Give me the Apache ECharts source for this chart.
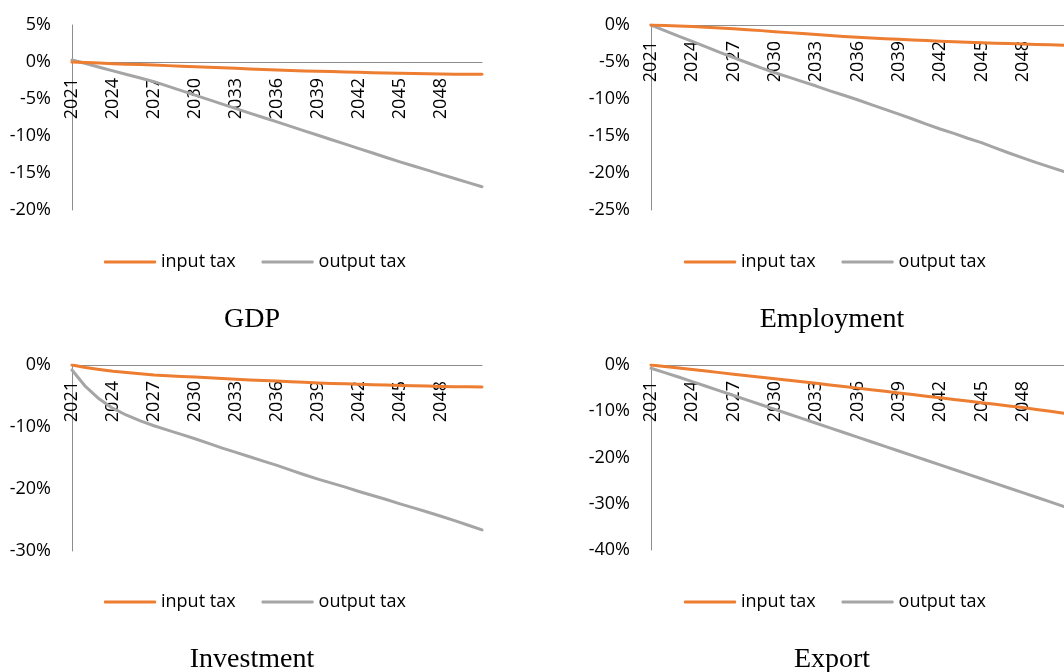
<!DOCTYPE html>
<html>
<head>
<meta charset="utf-8">
<script src="https://cdn.jsdelivr.net/npm/echarts@6/dist/echarts.min.js"></script>
<style>
html,body{margin:0;padding:0;background:#fff;}
#chart{width:1064px;height:672px;}
</style>
</head>
<body>
<div id="chart"></div>
<script>
const years = ['2021','2022','2023','2024','2025','2026','2027','2028','2029','2030',
  '2031','2032','2033','2034','2035','2036','2037','2038','2039','2040',
  '2041','2042','2043','2044','2045','2046','2047','2048','2049','2050','2051'];

const seriesNames = ['input tax', 'output tax'];
const panelTitles = ['GDP', 'Employment', 'Investment', 'Export'];

const gdpInput = [0,-0.07,-0.15,-0.22,-0.29,-0.35,-0.42,-0.49,-0.56,-0.63,
  -0.70,-0.78,-0.85,-0.93,-1.00,-1.08,-1.14,-1.20,-1.25,-1.30,
  -1.35,-1.40,-1.44,-1.48,-1.52,-1.55,-1.59,-1.62,-1.64,-1.66,-1.67];
const gdpOutput = [0.27,-0.2,-0.7,-1.2,-1.68,-2.17,-2.66,-3.27,-3.87,-4.48,
  -5.09,-5.69,-6.30,-6.90,-7.50,-8.10,-8.70,-9.30,-9.90,-10.50,
  -11.10,-11.70,-12.30,-12.90,-13.50,-14.06,-14.62,-15.18,-15.74,-16.30,-16.85];

const empInput = [0,-0.06,-0.13,-0.2,-0.3,-0.4,-0.5,-0.63,-0.76,-0.9,
  -1.03,-1.16,-1.29,-1.42,-1.55,-1.66,-1.76,-1.85,-1.94,-2.02,
  -2.1,-2.18,-2.25,-2.32,-2.39,-2.45,-2.51,-2.56,-2.62,-2.67,-2.72];
const empOutput = [0,-0.75,-1.5,-2.2,-2.95,-3.7,-4.4,-5.1,-5.8,-6.45,
  -7.05,-7.65,-8.25,-8.9,-9.5,-10.1,-10.75,-11.4,-12.05,-12.7,
  -13.4,-14.05,-14.65,-15.3,-15.9,-16.6,-17.3,-17.95,-18.6,-19.2,-19.8];

const invInput = [0,-0.4,-0.72,-1.0,-1.22,-1.42,-1.6,-1.73,-1.84,-1.95,
  -2.07,-2.19,-2.3,-2.4,-2.5,-2.6,-2.7,-2.8,-2.9,-2.97,
  -3.04,-3.1,-3.17,-3.24,-3.3,-3.35,-3.4,-3.45,-3.49,-3.52,-3.55];
const invOutput = [-0.8,-3.5,-5.5,-7.0,-8.1,-9.0,-9.8,-10.5,-11.2,-11.9,
  -12.65,-13.4,-14.1,-14.8,-15.5,-16.2,-16.95,-17.7,-18.4,-19.05,
  -19.7,-20.4,-21.05,-21.7,-22.4,-23.05,-23.7,-24.4,-25.1,-25.85,-26.6];

const expInput = [0,-0.33,-0.66,-0.99,-1.32,-1.65,-1.98,-2.31,-2.64,-2.97,
  -3.3,-3.63,-3.97,-4.31,-4.65,-5.0,-5.35,-5.7,-6.05,-6.4,
  -6.75,-7.1,-7.45,-7.8,-8.15,-8.5,-8.85,-9.2,-9.6,-10.0,-10.45];
const expOutput = [-0.7,-1.65,-2.6,-3.6,-4.6,-5.6,-6.6,-7.6,-8.6,-9.6,
  -10.6,-11.6,-12.6,-13.6,-14.6,-15.6,-16.6,-17.6,-18.6,-19.6,
  -20.6,-21.6,-22.6,-23.6,-24.6,-25.6,-26.6,-27.6,-28.6,-29.6,-30.6];

const yMin = [-20, -25, -30, -40];
const yMax = [5, 0, 0, 0];
const yStep = [5, 5, 10, 10];

const panelData = [
  [gdpInput, gdpOutput],
  [empInput, empOutput],
  [invInput, invOutput],
  [expInput, expOutput]
];

// layout
const grids = [
  {left: 72,  top: 25,  width: 410, height: 185},
  {left: 651, top: 25,  width: 415, height: 185},
  {left: 72,  top: 365, width: 410, height: 186},
  {left: 651, top: 365, width: 415, height: 185}
];
const legendPos = [
  {left: 104, top: 253},
  {left: 684, top: 253},
  {left: 104, top: 593},
  {left: 684, top: 593}
];
const titlePos = [
  {x: 252, y: 306},
  {x: 832, y: 306},
  {x: 252, y: 646},
  {x: 832, y: 646}
];

const colors = ['#ED7D31', '#A5A5A5'];
const axisColor = '#8c8c8c';
const sansFont = 'Open Sans';

const option = {
  animation: false,
  backgroundColor: '#fff',
  color: colors,
  grid: grids.map(g => Object.assign({containLabel: false}, g)),
  title: panelTitles.map((t, i) => ({
    text: t,
    left: titlePos[i].x,
    top: titlePos[i].y,
    textAlign: 'center',
    padding: 0,
    textStyle: {fontFamily: 'Liberation Serif', fontSize: 28, fontWeight: 'normal', color: '#000'}
  })),
  legend: legendPos.map(p => ({
    data: seriesNames,
    left: p.left,
    top: p.top,
    icon: 'roundRect',
    itemWidth: 52,
    itemHeight: 3,
    itemGap: 26,
    padding: 0,
    selectedMode: false,
    textStyle: {fontFamily: sansFont, fontSize: 18, color: '#000'}
  })),
  xAxis: grids.map((g, i) => ({
    type: 'category',
    gridIndex: i,
    data: years,
    boundaryGap: false,
    position: 'bottom',
    // place the horizontal axis (line + labels) at the 0% level
    offset: -g.height * (0 - yMin[i]) / (yMax[i] - yMin[i]),
    axisLine: {show: true, onZero: false, lineStyle: {color: axisColor, width: 1}},
    axisTick: {show: false},
    splitLine: {show: false},
    axisLabel: {
      rotate: 90,
      margin: 16,
      interval: (idx) => idx % 3 === 0 && idx < years.length - 1,
      fontFamily: sansFont,
      fontSize: 18,
      color: '#000'
    }
  })),
  yAxis: grids.map((g, i) => ({
    type: 'value',
    gridIndex: i,
    min: yMin[i],
    max: yMax[i],
    interval: yStep[i],
    axisLine: {show: true, onZero: false, lineStyle: {color: axisColor, width: 1}},
    axisTick: {show: false},
    splitLine: {show: false},
    axisLabel: {
      formatter: '{value}%',
      margin: 21,
      fontFamily: sansFont,
      fontSize: 18,
      color: '#000'
    }
  })),
  series: []
};

panelData.forEach((pair, i) => {
  pair.forEach((vals, k) => {
    option.series.push({
      type: 'line',
      name: seriesNames[k],
      xAxisIndex: i,
      yAxisIndex: i,
      data: vals,
      showSymbol: false,
      symbol: 'none',
      smooth: false,
      lineStyle: {width: 3, color: colors[k], cap: 'round', join: 'round'},
      itemStyle: {color: colors[k]},
      z: 3 + (1 - k)
    });
  });
});

const chart = echarts.init(document.getElementById('chart'), null, {renderer: 'canvas'});
chart.setOption(option);
</script>
</body>
</html>
